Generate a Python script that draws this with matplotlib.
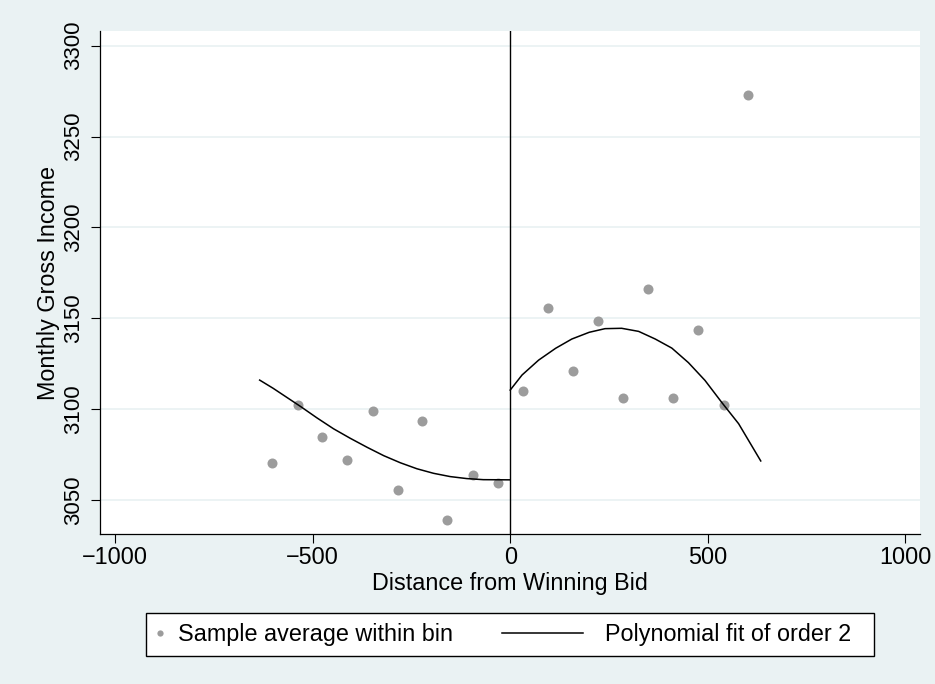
import numpy as np
import matplotlib
matplotlib.use("Agg")
import matplotlib.pyplot as plt
from matplotlib.patches import Rectangle
from matplotlib.lines import Line2D

plt.rcParams['font.family'] = ['Liberation Sans', 'DejaVu Sans']

# bin averages
bin_x = [-603, -538, -476, -412, -348, -285, -223, -159, -94, -32,
         32, 95, 159, 222, 286, 349, 412, 476, 540, 603]
bin_y = [3070.2, 3102.1, 3084.6, 3071.8, 3098.8, 3055.5, 3093.6, 3039.2, 3063.9, 3059.2,
         3110.0, 3155.5, 3121.0, 3148.7, 3106.1, 3166.0, 3106.0, 3143.6, 3102.3, 3272.9]

# quadratic fit
left_fit_x = [-634, -600, -573, -530, -489, -447, -405, -362, -320, -278,
              -236, -194, -152, -110, -68, 0]
left_fit_y = [3116.0, 3111.5, 3107.6, 3101.4, 3095.2, 3089.2, 3084.0, 3079.0, 3074.4, 3070.5,
              3067.2, 3064.7, 3062.9, 3061.8, 3061.2, 3061.1]
right_fit_x = [0, 30, 72, 115, 156, 200, 240, 282, 325, 367, 409, 451, 493, 535, 578, 634]
right_fit_y = [3110.5, 3118.8, 3127.0, 3133.5, 3138.6, 3142.3, 3144.3, 3144.5, 3142.8, 3138.6,
               3133.6, 3125.6, 3115.8, 3103.8, 3092.0, 3071.5]

x_ticks = [-1000, -500, 0, 500, 1000]
y_ticks = [3050, 3100, 3150, 3200, 3250, 3300]

bg = "#EAF2F3"
dot = "#9C9C9C"
fs = 16.8

fig = plt.figure(figsize=(9.35, 6.84), dpi=100, facecolor=bg)
ax = fig.add_axes([100 / 935, 150 / 684, 820 / 935, 503 / 684])
ax.set_facecolor("white")

ax.set_xlim(-1038, 1037)
ax.set_ylim(3031.3, 3308.1)
ax.set_xticks(x_ticks)
ax.set_yticks(y_ticks)
ax.set_axisbelow(True)
ax.yaxis.grid(True, color=bg, lw=1.3)

ax.axvline(0, color="black", lw=1.0, zorder=2)
ax.scatter(bin_x, bin_y, s=52, color=dot, linewidths=0, zorder=3)
ax.plot(left_fit_x, left_fit_y, color="black", lw=1.1, zorder=4,
        solid_joinstyle="round")
ax.plot(right_fit_x, right_fit_y, color="black", lw=1.1, zorder=4,
        solid_joinstyle="round")

for side in ("top", "right"):
    ax.spines[side].set_visible(False)
for side in ("left", "bottom"):
    ax.spines[side].set_color("black")
    ax.spines[side].set_linewidth(0.9)

ax.tick_params(axis="both", direction="out", length=6.5, width=0.8,
               color="black", labelsize=fs)
ax.tick_params(axis="x", pad=2)
ax.tick_params(axis="y", pad=5, labelsize=16)
plt.setp(ax.get_yticklabels(), rotation=90, va="center")

ax.set_xlabel("Distance from Winning Bid", fontsize=fs, labelpad=2)
ax.set_ylabel("Monthly Gross Income", fontsize=fs, labelpad=2)

# legend box and entries
fig.patches.append(Rectangle((146 / 935, 28 / 684), 728 / 935, 43 / 684,
                             transform=fig.transFigure, facecolor="white",
                             edgecolor="black", lw=1.0, zorder=1))
ycen = 1 - 634.5 / 684
fig.legend(handles=[Line2D([], [], ls="none", marker="o", markersize=4.5,
                           color=dot, mec="none")],
           labels=["Sample average within bin"], loc="center left",
           bbox_to_anchor=(153 / 935, ycen), frameon=False, fontsize=fs,
           handlelength=0.6, handletextpad=0.47, borderpad=0, borderaxespad=0)
fig.legend(handles=[Line2D([], [], color="black", lw=1.1)],
           labels=["Polynomial fit of order 2"], loc="center left",
           bbox_to_anchor=(502 / 935, ycen), frameon=False, fontsize=fs,
           handlelength=3.46, handletextpad=0.94, borderpad=0, borderaxespad=0)

fig.savefig("out.png", dpi=100, facecolor=bg)
